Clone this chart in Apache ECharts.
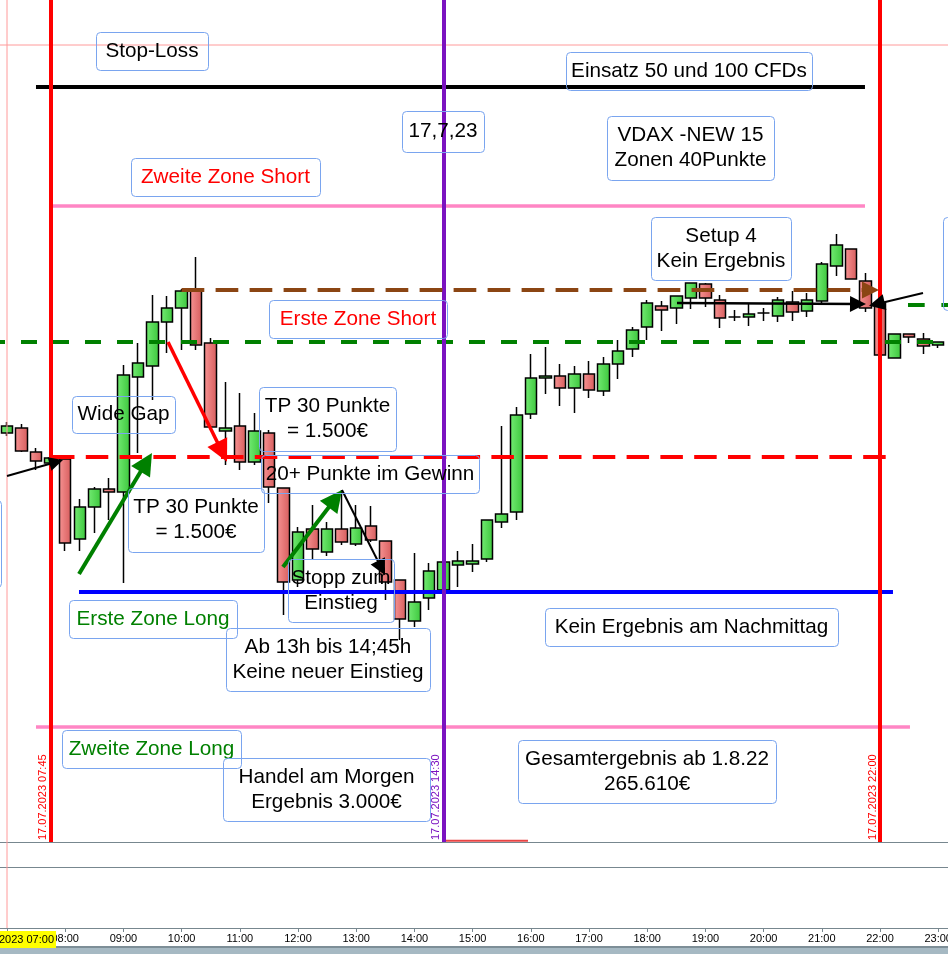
<!DOCTYPE html>
<html><head><meta charset="utf-8">
<script src="https://cdn.jsdelivr.net/npm/echarts@6/dist/echarts.min.js"></script>
<style>html,body{margin:0;padding:0;background:#fff;}#chart{width:948px;height:954px;}</style>
</head><body><div id="chart"></div>
<script>
const FONT = '"Liberation Sans", Arial, sans-serif';

// ---- 15-minute candles, 17.07.2023 ----
const candleTimes = ['07:00','07:15','07:30','07:45','08:00','08:15','08:30','08:45','09:00','09:15','09:30','09:45',
 '10:00','10:15','10:30','10:45','11:00','11:15','11:30','11:45','12:00','12:15','12:30','12:45',
 '13:00','13:15','13:30','13:45','14:00','14:15','14:30','14:45','15:00','15:15','15:30','15:45',
 '16:00','16:15','16:30','16:45','17:00','17:15','17:30','17:45','18:00','18:15','18:30','18:45',
 '19:00','19:15','19:30','19:45','20:00','20:15','20:30','20:45','21:00','21:15','21:30','21:45',
 '22:00','22:15','22:30','22:45','23:00'];
const candleOpen = [16047.7,16049.2,16042.0,16038.7,16039.9,16015.9,16025.5,16030.9,16030.0,16064.5,16067.8,16081.0,
 16085.2,16090.3,16074.7,16048.3,16049.8,16039.0,16047.7,16031.2,16003.6,16018.9,16012.0,16018.9,
 16014.4,16019.8,16015.3,16003.6,15991.3,15998.2,16000.6,16008.1,16008.4,16009.9,16021.0,16024.0,
 16053.4,16064.2,16064.8,16061.2,16065.4,16060.3,16068.4,16072.9,16079.5,16085.8,16085.2,16088.2,
 16092.4,16087.6,16082.5,16082.5,16083.7,16082.8,16087.0,16084.3,16087.3,16097.8,16102.9,16093.3,
 16086.7,16070.2,16077.4,16075.9,16074.1];
const candleClose = [16049.8,16042.3,16039.3,16040.2,16014.7,16025.5,16030.9,16030.0,16065.1,16068.7,16081.0,16085.2,
 16090.3,16074.1,16049.5,16049.2,16039.0,16048.3,16031.5,16003.0,16018.0,16012.9,16018.9,16015.0,
 16019.2,16015.6,16003.0,15991.9,15997.0,16006.3,16009.0,16009.3,16009.3,16021.6,16023.4,16053.1,
 16064.2,16064.8,16061.2,16065.4,16060.6,16068.4,16072.3,16078.6,16086.7,16084.6,16088.8,16092.7,
 16088.2,16082.2,16082.5,16083.4,16083.7,16087.6,16084.0,16087.6,16098.4,16104.1,16093.9,16085.2,
 16071.1,16077.4,16076.5,16073.8,16075.0];
const candleLow = [16046.8,16042.0,16036.6,16038.4,16012.3,16012.3,16017.7,16021.6,16002.7,16041.7,16057.6,16071.7,
 16072.6,16072.6,16048.6,16038.1,16036.6,16038.1,16026.7,15993.1,16001.5,16009.6,16010.8,16014.1,
 16013.8,16015.0,15997.6,15985.6,15989.5,15994.6,16000.0,16001.5,16006.0,16009.0,16019.2,16021.6,
 16051.9,16059.4,16055.8,16053.7,16058.2,16058.8,16063.9,16070.5,16075.6,16078.3,16080.4,16084.9,
 16085.5,16079.2,16081.3,16079.8,16081.3,16081.0,16081.3,16082.5,16086.7,16094.8,16093.9,16084.0,
 16071.1,16070.2,16074.7,16071.4,16073.2];
const candleHigh = [16051.0,16050.4,16043.2,16040.8,16040.5,16027.9,16031.5,16034.2,16068.1,16074.7,16089.1,16088.8,
 16090.9,16100.5,16076.2,16063.0,16059.7,16053.7,16048.6,16031.2,16019.5,16026.1,16021.0,16030.6,
 16026.1,16025.8,16015.3,16003.6,16011.7,16008.7,16009.6,16012.3,16014.4,16021.6,16049.8,16055.5,
 16071.4,16073.5,16068.4,16067.8,16069.3,16070.5,16075.6,16079.5,16087.6,16087.3,16088.8,16092.7,
 16092.7,16089.1,16084.6,16086.4,16085.2,16088.5,16090.3,16089.7,16099.0,16107.4,16102.9,16095.7,
 16086.7,16077.4,16077.4,16077.7,16075.0];

// ---- horizontal levels (price, start hour, end hour) ----
const levelPrice = [16151.5, 16115.8, 16075.0, 16086.1, 16040.5, 16000.0, 15959.5];
const levelStart = [7.498, 7.739, 6.8797, 22.481, 7.773, 8.237, 7.498];
const levelEnd   = [21.742, 21.742, 23.1684, 23.1684, 22.172, 22.223, 22.515];
// brown level drawn with arrowhead
const brownLevel = [16090.6, 10.0, 21.837];

// ---- event lines ----
const eventHours = [7.75, 14.5, 22.0];
const eventLabels = ['17.07.2023 07:45', '17.07.2023 14:30', '17.07.2023 22:00'];

// ---- cursor ----
const cursorHour = 7.0;
const cursorPrice = 16164.1;
const cursorLabel = '17.07.2023 07:00';

// ---- arrows [hour, price] ----
const arrowFrom = [[7.0,16034.8],[8.237,16005.4],[9.766,16075.0],[11.742,16007.5],[12.756,16030.6],[18.512,16086.7],[22.739,16089.7]];
const arrowTo   = [[7.847,16039.0],[9.393,16038.9],[10.697,16042.0],[12.641,16028.0],[13.433,16007.2],[21.622,16086.4],[21.945,16086.4]];

// ---- small indicator segment ----
const indicatorSeg = [[14.491, 15925.4], [15.952, 15925.4]];

// ---- axis ticks ----
const tickHours = [7,8,9,10,11,12,13,14,15,16,17,18,19,20,21,22,23];
const labelHours = [8,9,10,11,12,13,14,15,16,17,18,19,20,21,22,23];

// ---- annotations ----
const annoTexts = ['Stop-Loss','Einsatz 50 und 100 CFDs','17,7,23','VDAX -NEW 15\nZonen 40Punkte','Zweite Zone Short',
 'Setup 4\nKein Ergebnis','Erste Zone Short','Wide Gap','TP 30 Punkte\n= 1.500€','20+ Punkte im Gewinn',
 'TP 30 Punkte\n= 1.500€','Stopp zum\nEinstieg','Erste Zone Long','Kein Ergebnis am Nachmittag',
 'Ab 13h bis 14;45h\nKeine neuer Einstieg','Zweite Zone Long','Handel am Morgen\nErgebnis 3.000€',
 'Gesamtergebnis ab 1.8.22\n265.610€','',''];
const annoHour  = [9.491,18.718,14.491,18.744,10.754,19.268,13.031,9.002,12.507,13.237,10.247,12.739,9.509,18.761,12.515,9.483,12.490,17.997,23.942,6.038];
const annoPrice = [16162.3,16156.3,16138.15,16133.2,16124.5,16103.05,16081.9,16053.25,16051.9,16035.4,16021.6,16000.45,15991.9,15989.5,15979.75,15952.9,15940.75,15946.15,16098.55,16014.55];

// ---- layout / styles (not data) ----
const xMin = 6.8797, xMax = 23.1684, yMin = 15925.0, yMax = 16177.6;
const annoBoxW = [112,246,82,167,189,140,178,103,137,218,136,106,168,293,204,179,207,258,100,100];
const annoBoxH = [38,38,41,64,38,63,38,37,64,38,64,63,38,38,63,38,63,63,93,87];
const annoColor = ['#000','#000','#000','#000','#ff0000','#000','#ff0000','#000','#000','#000','#000','#000','#008000','#000','#000','#008000','#000','#000','#000','#000'];
const levelStyle = [
 {color:'#000000', width:4, type:'solid'},
 {color:'#ff86c4', width:3.5, type:'solid'},
 {color:'#008000', width:4, type:[16,16], dashOffset:11},
 {color:'#008000', width:4, type:[16.7,16.7]},
 {color:'#ff0000', width:4, type:[22.5,11.3]},
 {color:'#0000ff', width:4, type:'solid'},
 {color:'#ff86c4', width:3.5, type:'solid'}
];
const eventColor = ['#ff0000','#7b12c0','#ff0000'];
const arrowColor = ['#000','#008000','#ff0000','#008000','#000','#000','#000'];
const arrowWidth = [2,4,3.5,4,2,2.5,2];
const arrowHead = [14,22,22,22,16,16,16];
const axisGray = '#77878f';

function toHour(s){const p=s.split(':');return +p[0] + (+p[1])/60;}

const candleData = candleTimes.map((t,i)=>[toHour(t), candleOpen[i], candleClose[i], candleLow[i], candleHigh[i]]);

const upGrad = {type:'linear',x:0,y:0,x2:1,y2:0,colorStops:[{offset:0,color:'#74ec74'},{offset:1,color:'#3cc63c'}]};
const downGrad = {type:'linear',x:0,y:0,x2:1,y2:0,colorStops:[{offset:0,color:'#f79494'},{offset:1,color:'#d65c5c'}]};

const series = [];
series.push({
  type:'candlestick', xAxisIndex:0, yAxisIndex:0, z:2, silent:true, animation:false,
  data: candleData, encode:{x:0, y:[1,2,3,4]}, barWidth:12,
  itemStyle:{color:upGrad, color0:downGrad, borderColor:'#000', borderColor0:'#000', borderColorDoji:'#000', borderWidth:1.5}
});
levelPrice.forEach((p,i)=>{
  const st = levelStyle[i];
  series.push({type:'line', xAxisIndex:0, yAxisIndex:0, z:3, silent:true, animation:false, symbol:'none', showSymbol:false,
    data:[[levelStart[i],p],[levelEnd[i],p]],
    lineStyle:{color:st.color, width:st.width, type:st.type, dashOffset:st.dashOffset||0}});
});
// cursor crosshair
series.push({type:'line', xAxisIndex:0, yAxisIndex:0, z:3, silent:true, animation:false, symbol:'none',
  data:[[cursorHour,yMin],[cursorHour,yMax]], lineStyle:{color:'#ff9a9a', width:1}});
series.push({type:'line', xAxisIndex:0, yAxisIndex:0, z:3, silent:true, animation:false, symbol:'none',
  data:[[xMin,cursorPrice],[xMax,cursorPrice]], lineStyle:{color:'#ff9a9a', width:1}});
series.push({type:'line', xAxisIndex:1, yAxisIndex:1, z:3, silent:true, animation:false, symbol:'none',
  data:[[cursorHour,0],[cursorHour,1]], lineStyle:{color:'#ff9a9a', width:1}});
series.push({type:'line', xAxisIndex:2, yAxisIndex:2, z:3, silent:true, animation:false, symbol:'none',
  data:[[cursorHour,0],[cursorHour,1]], lineStyle:{color:'#ff9a9a', width:1}});
// small indicator segment
series.push({type:'line', xAxisIndex:0, yAxisIndex:0, z:3, silent:true, animation:false, symbol:'none', clip:false,
  data: indicatorSeg, lineStyle:{color:'#e84444', width:2}});

// markLines: events, arrows, brown level
const mlData = [];
eventHours.forEach((h,i)=>{
  mlData.push({xAxis:h, lineStyle:{color:eventColor[i], width:4, type:'solid'},
    label:{show:true, formatter:eventLabels[i], position:'insideStartTop', color:eventColor[i], fontSize:11, fontFamily:FONT, distance:[2,2]}});
});
mlData.push([{coord:[brownLevel[1],brownLevel[0]], symbol:'none', lineStyle:{color:'#8b4513', width:4, type:[22.7,11.3]}},
             {coord:[brownLevel[2],brownLevel[0]], symbol:'triangle', symbolSize:17}]);
arrowFrom.forEach((f,i)=>{
  mlData.push([{coord:f, symbol:'none', lineStyle:{color:arrowColor[i], width:arrowWidth[i], type:'solid'}},
               {coord:arrowTo[i], symbol:'triangle', symbolSize:arrowHead[i]}]);
});
series.push({type:'line', xAxisIndex:0, yAxisIndex:0, z:4, silent:true, animation:false, symbol:'none', showSymbol:false,
  data:[[xMin,yMin]],
  markLine:{silent:true, animation:false, symbol:['none','none'], label:{show:false}, lineStyle:{type:'solid'}, data: mlData}
});

// annotations
series.push({
  type:'custom', xAxisIndex:0, yAxisIndex:0, z:10, silent:true, animation:false, clip:false,
  dimensions:['t','p','i'], encode:{x:0, y:1},
  data: annoHour.map((h,i)=>[h, annoPrice[i], i]),
  renderItem:function(params, api){
    const i = api.value(2);
    const c = api.coord([api.value(0), api.value(1)]);
    const w = annoBoxW[i], hh = annoBoxH[i];
    return {type:'group', children:[
      {type:'rect', shape:{x:Math.round(c[0]-w/2)+0.5, y:Math.round(c[1]-hh/2)+0.5, width:w, height:hh, r:4},
       style:{fill:'none', stroke:'#7aa5ef', lineWidth:1}},
      {type:'text', x:c[0], y:c[1], style:{text:annoTexts[i], fill:annoColor[i], font:'20.7px '+FONT, align:'center', verticalAlign:'middle', lineHeight:25}}
    ]};
  }
});

const hiddenTopAxis = (gi)=>({type:'value', gridIndex:gi, min:xMin, max:xMax, position:'top',
  axisLine:{show:true,onZero:false,lineStyle:{color:axisGray,width:1}}, axisTick:{show:false}, axisLabel:{show:false}, splitLine:{show:false}});

const option = {
  backgroundColor:'#ffffff',
  animation:false,
  grid:[
    {left:0,right:0,top:0,height:842,outerBoundsMode:'none',containLabel:false},
    {left:0,right:0,top:842,height:25,outerBoundsMode:'none',containLabel:false},
    {left:0,right:0,top:867,height:61,outerBoundsMode:'none',containLabel:false}
  ],
  xAxis:[
    {type:'value', gridIndex:0, min:xMin, max:xMax, show:false, splitLine:{show:false}},
    hiddenTopAxis(1),
    hiddenTopAxis(2),
    {type:'value', gridIndex:2, min:xMin, max:xMax, position:'bottom',
     axisLine:{show:true,onZero:false,lineStyle:{color:axisGray,width:1}},
     axisTick:{show:true, customValues:tickHours, length:4, lineStyle:{color:axisGray}},
     axisLabel:{show:true, customValues:labelHours, margin:5, fontSize:11, color:'#000', fontFamily:FONT,
       formatter:function(v){return (v<10?'0':'')+v+':00';}},
     splitLine:{show:false}}
  ],
  yAxis:[
    {type:'value', gridIndex:0, min:yMin, max:yMax, show:false, splitLine:{show:false}},
    {type:'value', gridIndex:1, min:0, max:1, show:false, splitLine:{show:false}},
    {type:'value', gridIndex:2, min:0, max:1, show:false, splitLine:{show:false}}
  ],
  graphic:[
    {type:'rect', left:0, top:946, shape:{width:948, height:8}, style:{fill:'#a6b9c3'}, z:20},
    {type:'rect', left:0, top:946, shape:{width:948, height:2}, style:{fill:'#7d8e97'}, z:21},
    {type:'text', x:56, y:939.5, z:30, style:{text:cursorLabel, align:'right', verticalAlign:'middle', font:'11px '+FONT, fill:'#000', backgroundColor:'#ffff00', padding:[3,2,3,2]}}
  ],
  series: series
};

const chart = echarts.init(document.getElementById('chart'), null, {renderer:'canvas', width:948, height:954});
chart.setOption(option);
</script>
</body></html>
